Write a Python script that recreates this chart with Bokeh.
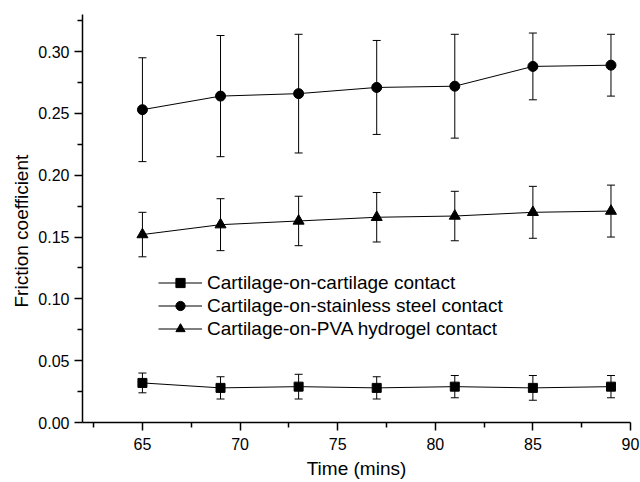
from bokeh.plotting import figure
from bokeh.models import (ColumnDataSource, Whisker, TeeHead, Legend, LegendItem,
                          FixedTicker, Range1d, Title)
from bokeh.embed import file_html
from bokeh.resources import INLINE

# ---- data ----
time_mins = [65, 69, 73, 77, 81, 85, 89]

cc_mean = [0.032, 0.028, 0.029, 0.028, 0.029, 0.028, 0.029]
cc_err = [0.008, 0.009, 0.010, 0.009, 0.009, 0.010, 0.009]

ss_mean = [0.253, 0.264, 0.266, 0.271, 0.272, 0.288, 0.289]
ss_err = [0.042, 0.049, 0.048, 0.038, 0.042, 0.027, 0.025]

pva_mean = [0.152, 0.160, 0.163, 0.166, 0.167, 0.170, 0.171]
pva_err = [0.018, 0.021, 0.020, 0.020, 0.020, 0.021, 0.021]

series_labels = ["Cartilage-on-cartilage contact",
                 "Cartilage-on-stainless steel contact",
                 "Cartilage-on-PVA hydrogel contact"]

x_title = "Time (mins)"
y_title = "Friction coefficient"

x_major = [65, 70, 75, 80, 85, 90]
x_minor = [62.5, 67.5, 72.5, 77.5, 82.5, 87.5]
y_major = [0.0, 0.05, 0.10, 0.15, 0.20, 0.25, 0.30]
y_minor = [0.025, 0.075, 0.125, 0.175, 0.225, 0.275, 0.325]

FONT = "Liberation Sans"
X0, X1 = 61.93, 90
Y0, Y1 = 0, 0.33

p = figure(width=640, height=482, output_backend="svg", toolbar_location=None,
           x_range=Range1d(X0, X1), y_range=Range1d(Y0, Y1),
           min_border_left=82, min_border_right=10, min_border_top=14,
           min_border_bottom=60)
p.outline_line_color = None
p.xgrid.visible = False
p.ygrid.visible = False
p.background_fill_color = "white"
p.border_fill_color = "white"

# axes styling
for ax in (p.xaxis[0], p.yaxis[0]):
    ax.axis_line_width = 1.5
    ax.axis_line_color = "black"
    ax.major_tick_line_color = "black"
    ax.minor_tick_line_color = "black"
    ax.major_tick_line_width = 1.5
    ax.minor_tick_line_width = 1.5
    ax.major_tick_in = 0
    ax.major_tick_out = 8
    ax.minor_tick_in = 0
    ax.minor_tick_out = 5
    ax.major_label_text_font = FONT
    ax.major_label_text_font_size = "16px"
    ax.major_label_text_color = "black"

p.xaxis.ticker = FixedTicker(ticks=x_major, minor_ticks=x_minor)
p.yaxis.ticker = FixedTicker(ticks=y_major, minor_ticks=y_minor)
p.xaxis.major_label_overrides = {v: str(v) for v in x_major}
p.yaxis.major_label_overrides = {v: "%.2f" % v for v in y_major}
p.xaxis.major_label_standoff = 7
p.yaxis.major_label_standoff = 5

# axis titles as side-panel titles
p.add_layout(Title(text=x_title, align="center", standoff=6,
                   text_font=FONT, text_font_size="19px",
                   text_font_style="normal", text_color="black"), "below")
p.add_layout(Title(text=y_title, align="left", standoff=7, offset=115,
                   text_font=FONT, text_font_size="19px",
                   text_font_style="normal", text_color="black"), "left")

series = [
    (cc_mean, cc_err, "square", 9),
    (ss_mean, ss_err, "circle", 10),
    (pva_mean, pva_err, "triangle", 11),
]

items = []
for (mean, err, marker, size), label in zip(series, series_labels):
    src = ColumnDataSource(dict(
        x=time_mins, y=mean,
        upper=[m + e for m, e in zip(mean, err)],
        lower=[m - e for m, e in zip(mean, err)],
    ))
    w = Whisker(source=src, base="x", upper="upper", lower="lower",
                dimension="height", line_color="black", line_width=1,
                upper_head=TeeHead(size=8, line_color="black", line_width=1),
                lower_head=TeeHead(size=8, line_color="black", line_width=1))
    p.add_layout(w)
    lr = p.line("x", "y", source=src, line_color="black", line_width=1)
    sr = p.scatter("x", "y", source=src, marker=marker, size=size,
                   fill_color="black", line_color="black")
    items.append(LegendItem(label=label, renderers=[lr, sr]))

legend = Legend(items=items, location=(76, 82), orientation="vertical",
                background_fill_alpha=0, border_line_color=None,
                padding=0, margin=0, spacing=0,
                glyph_width=44, glyph_height=23, label_height=23,
                label_standoff=5,
                label_text_font=FONT, label_text_font_size="19px",
                label_text_color="black")
p.add_layout(legend, "center")

open("out.html", "w").write(file_html(p, INLINE))
